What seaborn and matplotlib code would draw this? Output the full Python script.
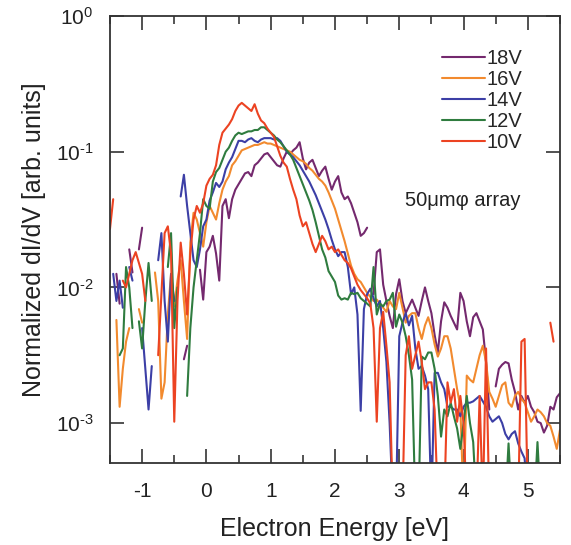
import numpy as np
import pandas as pd
import matplotlib
matplotlib.use("Agg")
import matplotlib.pyplot as plt
import seaborn as sns
from matplotlib.ticker import FixedLocator, MultipleLocator, NullLocator, FixedFormatter

N = np.nan

# Electron energy grid [eV] (0.05 eV sampling, -1.5 .. 5.5)
energy = np.linspace(-1.5, 5.5, 141)

# log10 of normalized dI/dV (NaN = gap / negative signal)
log_18V = [
    N, N, -1.90, -2.12, N, N, -1.72, -1.89, N, -1.72,
    -1.56, N, N, N, N, N, N, N, N, N,
    N, N, N, -2.53, -2.43, N, N, N, -1.87, -2.09,
    -1.74, -1.70, -1.62, -1.75, -1.95, -1.40, -1.35, -1.49, -1.35, -1.28,
    -1.24, -1.20, -1.16, -1.15, -1.18, -1.10, -1.08, -1.05, -1.02, -1.01,
    -1.04, -1.07, -1.10, -1.11, -1.05, -1.00, -1.02, -0.99, -0.97, -0.93,
    -1.05, -1.13, -1.08, -1.06, -1.12, -1.18, -1.14, -1.11, -1.20, -1.28,
    -1.22, -1.18, -1.30, -1.35, -1.33, -1.38, -1.45, -1.52, -1.62, -1.60,
    -1.56, N, -2.05, -1.74, -1.72, -1.98, -2.10, -2.21, -2.30, -2.05,
    -1.94, -2.10, -2.19, -2.14, -2.09, -2.15, -2.21, -2.10, -2.00, -2.10,
    -2.19, -2.35, -2.48, -2.25, -2.11, -2.15, -2.21, -2.26, -2.31, -2.04,
    -2.10, -2.25, -2.36, -2.22, -2.19, -2.25, -2.31, -2.55, -2.90, N,
    -2.73, -2.60, -2.57, -2.55, -2.56, -2.68, -2.77, -2.90, -2.80, -2.85,
    -2.80, -2.88, -2.92, -2.99, -3.00, -3.07, -3.02, -2.88, -2.90, -2.81,
    -2.78,
]
log_16V = [
    N, N, -2.24, -2.88, -2.60, -2.40, -2.30, N, N, -2.16,
    -2.26, N, N, N, -1.89, -2.10, -2.82, -2.70, -2.20, -1.90,
    -2.14, -1.95, -1.80, -2.10, -2.38, -1.67, -1.45, -1.50, -1.60, -1.70,
    -1.52, -1.40, -1.45, -1.50, -1.38, -1.28, -1.22, -1.18, -1.10, -1.07,
    -1.03, -0.99, -0.98, -0.97, -0.96, -0.95, -0.95, -0.94, -0.93, -0.94,
    -0.94, -0.95, -0.96, -0.97, -0.98, -0.99, -1.00, -1.02, -1.04, -1.06,
    -1.07, -1.09, -1.12, -1.14, -1.17, -1.20, -1.22, -1.25, -1.30, -1.36,
    -1.42, -1.50, -1.58, -1.66, -1.75, -1.84, -1.90, -1.94, -1.96, -2.00,
    -2.04, -2.07, -2.10, -2.09, -2.12, -2.15, -2.18, -2.10, -2.14, -2.16,
    -2.04, -2.15, -2.26, -2.21, -2.19, -2.19, -2.30, -2.38, -2.28, -2.22,
    -2.30, -2.42, -2.51, -2.45, -2.36, -2.36, -2.45, -2.60, -2.75, -2.88,
    -3.60, -2.65, -2.68, -2.70, -2.60, -2.50, -2.43, -2.55, -2.77, -2.82,
    -2.88, -2.80, -2.72, -2.70, -2.85, -2.88, -2.80, -2.77, -2.82, -2.85,
    -2.92, -2.99, -2.95, -2.90, -2.92, -2.95, -3.00, -3.02, -3.10, -3.19,
    -3.05,
]
log_14V = [
    N, -1.90, -2.10, -1.95, -2.15, N, -1.85, -1.95, N, N,
    -2.30, -2.60, -2.90, -2.58, N, -1.80, -1.60, -2.10, -2.40, -1.90,
    -2.10, N, -1.33, -1.17, -1.40, -1.60, -1.80, -1.85, -1.72, -1.55,
    -1.50, -1.36, -1.30, -1.23, -1.26, -1.22, -1.13, -1.08, -1.04, -0.98,
    -0.92, -0.92, -0.93, -0.91, -0.90, -0.92, -0.93, -0.91, -0.90, -0.90,
    -0.90, -0.91, -0.90, -0.92, -0.96, -1.00, -1.02, -1.04, -1.07, -1.10,
    -1.14, -1.18, -1.22, -1.27, -1.32, -1.38, -1.44, -1.50, -1.57, -1.65,
    -1.72, -1.77, -1.74, -1.74, -1.85, -2.05, -2.00, -2.20, -2.91, -2.16,
    -2.05, -2.01, -2.08, -2.14, -2.10, -2.30, -2.55, -3.00, -3.60, -3.60,
    -2.36, -2.26, -2.19, -2.28, -2.21, -2.45, -2.60, -2.58, -2.65, -2.75,
    -3.60, -2.63, -2.63, -2.70, -2.75, -2.88, -2.88, -2.90, -2.90, -2.95,
    -2.88, -2.85, -2.85, -2.84, -2.82, -2.80, -2.84, -2.88, -2.95, -2.99,
    -2.97, -2.95, -3.00, -3.08, -3.12, -3.08, -3.06, -3.15, -3.21, -3.26,
    -3.60, N, N, N, N, N, N, N, N, N,
    N,
]
log_12V = [
    N, N, N, -2.50, -2.45, -1.85, -2.00, -2.30, N, -2.25,
    -2.45, -2.10, -1.82, -2.10, N, N, N, N, -1.85, -1.60,
    -2.30, -2.00, N, N, -2.80, -2.30, -2.00, -1.80, -1.60, -1.35,
    -1.40, -1.42, -1.22, -1.15, -1.12, -1.06, -1.00, -0.97, -0.92, -0.88,
    -0.86, -0.87, -0.86, -0.85, -0.85, -0.84, -0.84, -0.82, -0.82, -0.84,
    -0.86, -0.88, -0.91, -0.93, -0.96, -0.99, -1.02, -1.06, -1.12, -1.18,
    -1.24, -1.30, -1.36, -1.43, -1.52, -1.62, -1.72, -1.78, -1.88, -1.92,
    -1.96, -2.06, -2.09, -2.08, -2.09, -2.04, -2.05, -2.04, -2.08, -2.10,
    -2.12, -2.14, -1.85, -2.20, -2.12, -2.14, -2.10, -2.09, -2.04, -2.29,
    -2.20, -2.26, -2.36, -2.50, -2.68, -3.60, -3.60, -2.51, -2.53, -2.48,
    -2.48, -2.60, -2.80, -3.10, -2.90, -2.95, -2.85, -2.95, -3.04, -3.19,
    -3.00, -2.80, -3.00, -3.14, -3.60, N, N, N, N, N,
    N, N, N, -3.60, -3.15, -3.60, N, N, N, N,
    N, N, -3.60, -3.14, -3.60, N, N, N, N, N,
    N,
]
log_10V = [
    -1.57, -1.35, N, N, -1.95, -2.00, -1.90, -1.80, -1.74, -1.82,
    -1.90, -2.10, N, N, N, -2.50, -2.05, -1.60, -1.55, -1.75,
    -2.99, -2.10, -1.67, -1.90, -2.20, -1.75, -1.50, -1.40, -1.45, -1.38,
    -1.25, -1.20, -1.17, -1.10, -0.95, -0.86, -0.83, -0.80, -0.76, -0.70,
    -0.66, -0.64, -0.66, -0.68, -0.70, -0.65, -0.72, -0.77, -0.79, -0.83,
    -0.86, -0.89, -0.96, -1.03, -1.08, -1.11, -1.20, -1.28, -1.35, -1.47,
    -1.55, -1.52, -1.60, -1.68, -1.74, -1.68, -1.62, -1.66, -1.72, -1.70,
    -1.74, -1.72, -1.76, -1.80, -1.82, -1.86, -1.92, -1.98, -2.02, -2.05,
    -2.08, -2.12, -2.30, -2.99, -2.30, -2.18, -2.43, -2.70, -3.60, N,
    N, -3.60, -2.50, -2.36, -2.60, -2.50, -2.40, -2.55, -2.75, -2.70,
    -2.70, -2.90, -3.60, N, -3.60, -2.70, -2.85, -2.75, -2.99, -2.80,
    -3.00, -3.60, N, N, -3.60, -2.80, -3.60, -2.45, -3.60, N,
    N, N, N, N, N, N, N, -3.60, -2.40, -2.38,
    -3.60, N, N, N, N, N, N, -2.26, -2.40, N,
    N,
]

series_labels = ["18V", "16V", "14V", "12V", "10V"]
series_logs = [log_18V, log_16V, log_14V, log_12V, log_10V]
series_colors = ["#74296e", "#f28a2e", "#3c3fa6", "#2f7c3f", "#ec4322"]
ytick_values = [1e-3, 1e-2, 1e-1, 1e0]
ytick_labels = [r"$10^{\text{-}3}$", r"$10^{\text{-}2}$", r"$10^{\text{-}1}$", r"$10^{0}$"]
ytick_labels_fallback = [r"$10^{-3}$", r"$10^{-2}$", r"$10^{-1}$", r"$10^{0}$"]

# long-form table, contiguous non-NaN runs become separate line units
frames = []
for lab, vals in zip(series_labels, series_logs):
    v = np.asarray(vals, dtype=float)
    valid = ~np.isnan(v)
    seg = np.cumsum(np.r_[valid[0], valid[1:] & ~valid[:-1]])
    frames.append(pd.DataFrame({
        "energy": energy[valid],
        "dIdV": 10.0 ** v[valid],
        "series": lab,
        "seg": [f"{lab}_{s}" for s in seg[valid]],
    }))
df = pd.concat(frames, ignore_index=True)

sns.set_style("ticks")
plt.rcParams["font.family"] = ["Liberation Sans", "DejaVu Sans"]
plt.rcParams["mathtext.fontset"] = "custom"
plt.rcParams["mathtext.rm"] = "Liberation Sans"
plt.rcParams["mathtext.it"] = "Liberation Sans"
plt.rcParams["mathtext.default"] = "regular"
plt.rcParams["axes.unicode_minus"] = False

fig = plt.figure(figsize=(5.71, 5.45), dpi=100)
ax = fig.add_axes([0.1926, 0.1505, 0.7881, 0.8201])
ax.set_yscale("log")

sns.lineplot(data=df, x="energy", y="dIdV", hue="series", units="seg",
             estimator=None, hue_order=series_labels,
             palette=dict(zip(series_labels, series_colors)),
             linewidth=1.5, ax=ax, sort=False)

ax.set_xlim(-1.5, 5.5)
ax.set_ylim(5.08e-4, 1.0)

ax.xaxis.set_major_locator(MultipleLocator(1))
ax.xaxis.set_minor_locator(MultipleLocator(0.5))
ax.yaxis.set_major_locator(FixedLocator(ytick_values))
ax.yaxis.set_major_formatter(FixedFormatter(ytick_labels))
ax.yaxis.set_minor_locator(NullLocator())

ax.tick_params(axis="both", which="major", direction="in", length=10, width=1.1,
               top=True, right=True, labelsize=15, colors="#222222")
ax.tick_params(axis="x", which="major", pad=14)
ax.tick_params(axis="y", which="major", pad=12)
ax.tick_params(axis="x", which="minor", direction="in", length=6, width=1.1, top=True)
for s in ax.spines.values():
    s.set_linewidth(1.3)
    s.set_color("#333333")

ax.set_xlabel("Electron Energy [eV]", fontsize=18, color="#222222", labelpad=11)
ax.set_ylabel("Normalized dI/dV [arb. units]", fontsize=18, color="#222222")
ax.yaxis.set_label_coords(-0.142, 0.5)

handles, labels = ax.get_legend_handles_labels()
ax.legend(handles, labels, frameon=False, loc="upper left",
          bbox_to_anchor=(0.72, 0.944), fontsize=14.5, handlelength=2.15,
          handletextpad=0.08, labelspacing=0.1, borderaxespad=0)

ax.text(0.655, 0.588, "50\u03bcm\u03c6 array", transform=ax.transAxes,
        fontsize=14.5, va="center", ha="left", color="#222222")

try:
    fig.savefig("out.png", dpi=100)
except Exception:
    ax.yaxis.set_major_formatter(FixedFormatter(ytick_labels_fallback))
    fig.savefig("out.png", dpi=100)
